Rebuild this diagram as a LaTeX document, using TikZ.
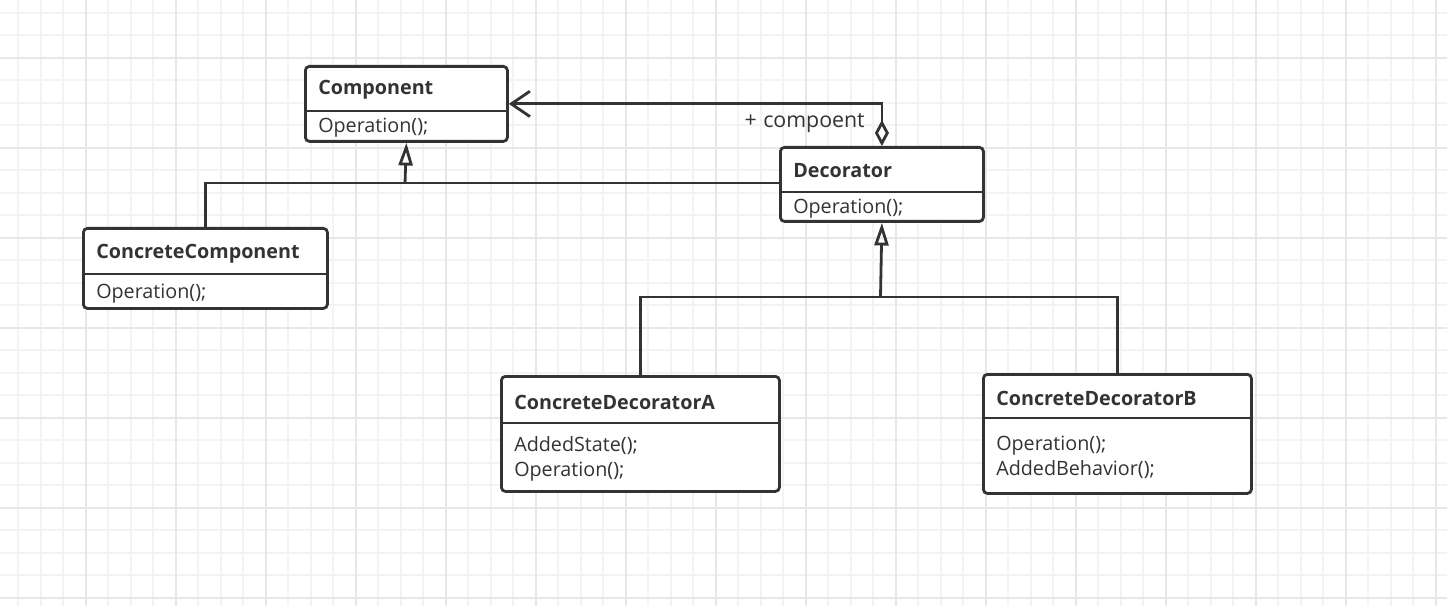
\documentclass[tikz,border=0pt]{standalone}
\usepackage{fontspec}
\setmainfont{Open Sans}
\usetikzlibrary{arrows.meta,calc}
\definecolor{ink}{HTML}{333333}
\definecolor{gminor}{HTML}{F3F3F3}
\definecolor{gmajor}{HTML}{E7E7E7}
\tikzset{
  umlbox/.style={draw=ink, line width=2.1pt, rounded corners=3pt, anchor=north west, inner sep=0pt, fill=white},
  divider/.style={draw=ink, line width=1.8pt},
  ttl/.style={anchor=west, inner sep=0pt, text=ink, font=\fontsize{14.8}{18.75}\selectfont\bfseries},
  mth/.style={anchor=west, inner sep=0pt, text=ink, font=\fontsize{14.8}{18.75}\selectfont, align=left},
  conn/.style={draw=ink, line width=2.1pt},
  inh/.style={conn, -{Triangle[open,length=17pt,width=10.5pt]}},
  agg/.style={conn, {Diamond[open,length=19.5pt,width=10.5pt]}-{Straight Barb[length=14pt,width=19pt]}},
}
\begin{document}
\begin{tikzpicture}[x=0.75pt,y=-0.75pt]
\useasboundingbox (0,0) rectangle (1447,606);
\fill[white] (0,0) rectangle (1447,606);
% grid
\foreach \i in {0,...,65} {\draw[gminor, line width=1.3pt] ({-4.3+22.5*\i},0) -- ({-4.3+22.5*\i},606);}
\foreach \j in {0,...,28} {\draw[gminor, line width=1.3pt] (0,{-9.8+22.5*\j}) -- (1447,{-9.8+22.5*\j});}
\foreach \i in {0,...,16} {\draw[gmajor, line width=1.3pt] ({-4.3+90*\i},0) -- ({-4.3+90*\i},606);}
\foreach \j in {0,...,6} {\draw[gmajor, line width=1.3pt] (0,{57.7+90*\j}) -- (1447,{57.7+90*\j});}

% boxes
\node[umlbox, minimum width=151.5pt, minimum height=56.25pt] (comp) at (304,65) {};
\node[umlbox, minimum width=152.25pt, minimum height=55.5pt] (dec) at (779,146) {};
\node[umlbox, minimum width=183pt, minimum height=60pt] (cc) at (82,227) {};
\node[umlbox, minimum width=208.5pt, minimum height=86.25pt] (cda) at (500,375) {};
\node[umlbox, minimum width=201pt, minimum height=89.25pt] (cdb) at (982,373) {};

\draw[divider] (comp.west |- 0,111) -- (comp.east |- 0,111);
\draw[divider] (dec.west |- 0,192) -- (dec.east |- 0,192);
\draw[divider] (cc.west |- 0,274) -- (cc.east |- 0,274);
\draw[divider] (cda.west |- 0,423) -- (cda.east |- 0,423);
\draw[divider] (cdb.west |- 0,418) -- (cdb.east |- 0,418);

% texts
\node[ttl] (compT) at (318,90) {Component};
\node[mth] (compM) at (318,128) {Operation();};
\node[ttl] (decT) at (793,171) {Decorator};
\node[mth] (decM) at (793,209) {Operation();};
\node[ttl] (ccT) at (96,254) {ConcreteComponent};
\node[mth] (ccM) at (96,294) {Operation();};
\node[ttl] (cdaT) at (514,402) {ConcreteDecoratorA};
\node[mth] (cdaM) at (514,458.5) {AddedState();\\Operation();};
\node[ttl] (cdbT) at (996,398) {ConcreteDecoratorB};
\node[mth] (cdbM) at (996,457) {Operation();\\AddedBehavior();};

% connectors
\coordinate (j1) at (405,183);
\coordinate (j2) at (880.5,297);
\draw[conn] (cc.north) |- (dec.west |- j1);
\draw[inh] (j1) -- (comp.south);
\draw[conn] (cda.north) |- (j2) -| (cdb.north);
\draw[inh] (j2) -- (dec.south);
\draw[agg] (dec.north) |- (comp.east);
\node[mth, anchor=east, font=\fontsize{16}{19}\selectfont] (lbl) at (865,123) {+\hspace{0.3em}compoent};
\end{tikzpicture}
\end{document}
